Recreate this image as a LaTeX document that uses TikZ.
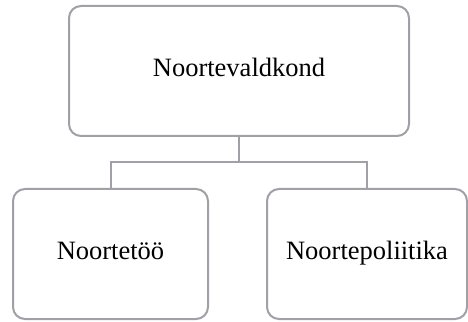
\documentclass[tikz,border=0pt]{standalone}
\usepackage{fontspec}
\setmainfont{Liberation Serif}
\usepackage{tikz}
\usetikzlibrary{positioning}
\definecolor{boxgray}{RGB}{160,160,166}

\begin{document}
\begin{tikzpicture}[x=1pt, y=1pt,
	unit/.style = {draw = boxgray, line width = 2pt, rounded corners = 12pt, fill = white,
		minimum height = 130pt, text height = 18pt, text depth = 6pt,
		font = \fontsize{26.5}{30}\selectfont},
	link/.style = {draw = boxgray, line width = 2pt}]

\useasboundingbox (0,0) rectangle (468,321);

\node[unit, minimum width = 340pt] (field) at (239,250) {Noortevaldkond};
\node[unit, minimum width = 195pt] (work) at (110.5,67) {Noortet\"o\"o};
\node[unit, minimum width = 200pt] (policy) at (367,67) {Noortepoliitika};

\coordinate (split) at (239,159);
\draw[link] (field.south) -- (split);
\draw[link] (split) -| (work.north);
\draw[link] (split) -| (policy.north);
\end{tikzpicture}
\end{document}
